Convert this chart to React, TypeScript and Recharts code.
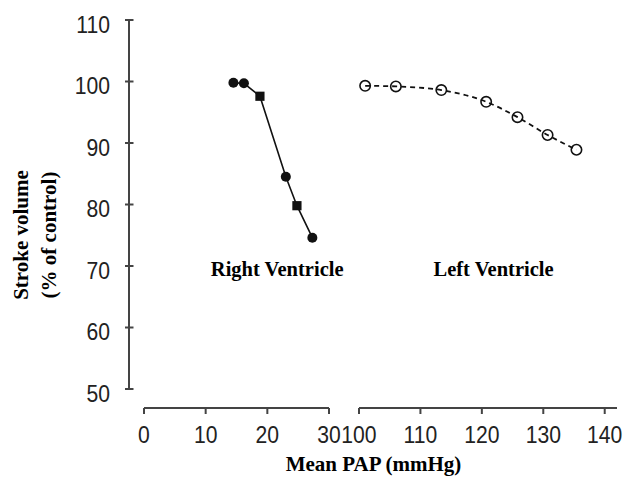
import React from 'react';
import { LineChart, Line, XAxis, YAxis, ReferenceDot } from 'recharts';

// ---- data ----
const rvPressure = [14.5, 16.2, 18.8, 23.0, 24.8, 27.3];
const rvStroke = [99.8, 99.7, 97.6, 84.5, 79.8, 74.6];
const rvMarker = ['circle', 'circle', 'square', 'circle', 'square', 'circle'];

const lvPressure = [101.0, 106.0, 113.4, 120.7, 125.8, 130.7, 135.4];
const lvStroke = [99.3, 99.2, 98.6, 96.7, 94.2, 91.3, 88.9];

const yTicks = [50, 60, 70, 80, 90, 100, 110];
const xTicksRV = [0, 10, 20, 30];
const xTicksLV = [100, 110, 120, 130, 140];

const rvLabel = { text: 'Right Ventricle', x: 21.6, y: 68.4 };
const lvLabel = { text: 'Left Ventricle', x: 121.9, y: 68.4 };

const rvData = rvPressure.map((x, i) => ({ x, y: rvStroke[i], marker: rvMarker[i] }));
const lvData = lvPressure.map((x, i) => ({ x, y: lvStroke[i] }));

// ---- styles ----
const W = 626;
const H = 478;
const AXIS = '#444';
const INK = '#111';
const TICK_FONT = '"Liberation Sans", Arial, sans-serif';
const SERIF = '"Liberation Serif", "Times New Roman", serif';

const YTick = (props: any) => {
  const { x, y, payload } = props;
  return (
    <g>
      <line x1={x - 4} x2={x + 4.5} y1={y} y2={y} stroke={AXIS} strokeWidth={2} />
      <text
        transform={`translate(${x - 19},${y + 12.5}) scale(0.92,1)`}
        textAnchor="end"
        fontFamily={TICK_FONT}
        fontSize={23}
        fill="#222"
      >
        {payload.value}
      </text>
    </g>
  );
};

const XTick = (props: any) => {
  const { x, y, payload } = props;
  return (
    <text
      transform={`translate(${x},${y + 27}) scale(0.92,1)`}
      textAnchor="middle"
      fontFamily={TICK_FONT}
      fontSize={23}
      fill="#222"
    >
      {payload.value}
    </text>
  );
};

const RvDot = (props: any) => {
  const { cx, cy, payload, index } = props;
  if (payload.marker === 'square') {
    return <rect key={`rv-${index}`} x={cx - 4.6} y={cy - 4.6} width={9.2} height={9.2} fill={INK} />;
  }
  return <circle key={`rv-${index}`} cx={cx} cy={cy} r={5} fill={INK} />;
};

const LvDot = (props: any) => {
  const { cx, cy, index } = props;
  return <circle key={`lv-${index}`} cx={cx} cy={cy} r={5.2} fill="none" stroke={INK} strokeWidth={1.6} />;
};

const TextLabel = (text: string) => (props: any) => {
  const vb = props.viewBox || {};
  const cx = vb.x + (vb.width || 0) / 2;
  const cy = vb.y + (vb.height || 0) / 2;
  return (
    <text x={cx} y={cy} textAnchor="middle" fontFamily={SERIF} fontWeight="bold" fontSize={20.5} fill="#000">
      {text}
    </text>
  );
};

const YTitle = () => (
  <g>
    <text transform="translate(28,235) rotate(-90)" textAnchor="middle" fontFamily={SERIF} fontWeight="bold" fontSize={21} fill="#000">
      Stroke volume
    </text>
    <text transform="translate(56,235) rotate(-90)" textAnchor="middle" fontFamily={SERIF} fontWeight="bold" fontSize={21} fill="#000">
      (% of control)
    </text>
  </g>
);

const XTitle = () => (
  <text x={373.5} y={471} textAnchor="middle" fontFamily={SERIF} fontWeight="bold" fontSize={21} fill="#000">
    Mean PAP (mmHg)
  </text>
);

const layer: React.CSSProperties = { position: 'absolute', left: 0, top: 0 };

export default function App() {
  return (
    <div style={{ position: 'absolute', left: 0, top: 0, width: W, height: H, background: '#fff' }}>
      {/* Y axis */}
      <div style={layer}>
        <LineChart width={W} height={H} data={rvData} margin={{ top: 20, right: 400, bottom: 89, left: 0 }}>
          <XAxis type="number" dataKey="x" domain={[0, 30]} hide />
          <YAxis
            type="number"
            domain={[50, 110]}
            ticks={yTicks}
            width={129}
            tickSize={0}
            tickMargin={0}
            tickLine={false}
            axisLine={{ stroke: AXIS, strokeWidth: 2 }}
            tick={<YTick />}
            allowDataOverflow
            label={{ content: () => <YTitle /> }}
          />
        </LineChart>
      </div>
      {/* Right ventricle segment */}
      <div style={layer}>
        <LineChart width={W} height={H} data={rvData} margin={{ top: 20, right: W - 329, bottom: 30, left: 144 }}>
          <XAxis
            type="number"
            dataKey="x"
            domain={[0, 30]}
            ticks={xTicksRV}
            height={40}
            tickSize={6}
            axisLine={{ stroke: AXIS, strokeWidth: 2 }}
            tickLine={{ stroke: AXIS, strokeWidth: 2 }}
            tick={<XTick />}
            allowDataOverflow
            label={{ content: () => <XTitle /> }}
          />
          <YAxis type="number" domain={[46.9, 110]} hide allowDataOverflow />
          <Line
            type="linear"
            dataKey="y"
            stroke={INK}
            strokeWidth={1.6}
            dot={RvDot}
            activeDot={false}
            isAnimationActive={false}
          />
          <ReferenceDot
            x={rvLabel.x}
            y={rvLabel.y}
            r={1}
            fill="none"
            stroke="none"
            label={{ content: TextLabel(rvLabel.text) }}
          />
        </LineChart>
      </div>
      {/* Left ventricle segment */}
      <div style={layer}>
        <LineChart width={W} height={H} data={lvData} margin={{ top: 20, right: W - 617, bottom: 30, left: 359 }}>
          <XAxis
            type="number"
            dataKey="x"
            domain={[100, 142]}
            ticks={xTicksLV}
            height={40}
            tickSize={6}
            axisLine={{ stroke: AXIS, strokeWidth: 2 }}
            tickLine={{ stroke: AXIS, strokeWidth: 2 }}
            tick={<XTick />}
            allowDataOverflow
          />
          <YAxis type="number" domain={[46.9, 110]} hide allowDataOverflow />
          <Line
            type="monotone"
            dataKey="y"
            stroke={INK}
            strokeWidth={1.8}
            strokeDasharray="5 4"
            dot={LvDot}
            activeDot={false}
            isAnimationActive={false}
          />
          <ReferenceDot
            x={lvLabel.x}
            y={lvLabel.y}
            r={1}
            fill="none"
            stroke="none"
            label={{ content: TextLabel(lvLabel.text) }}
          />
        </LineChart>
      </div>
    </div>
  );
}
